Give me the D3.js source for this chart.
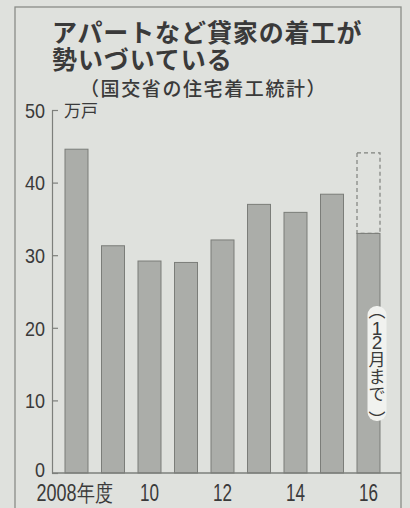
<!DOCTYPE html>
<html>
<head>
<meta charset="utf-8">
<script src="https://cdn.jsdelivr.net/npm/d3@7/dist/d3.min.js"></script>
<style>
  html, body { margin: 0; padding: 0; background: #dfe1dd; }
  svg { display: block; }
</style>
</head>
<body>
<script>
// Rental housing starts by fiscal year (10,000 units)
const years = ["2008", "2009", "2010", "2011", "2012", "2013", "2014", "2015", "2016"];
const starts = [44.6, 31.3, 29.2, 29.0, 32.1, 37.0, 35.9, 38.4, 33.0];

// Dashed outline on the latest (partial) year
const outlineYear = "2016";
const outlineValue = 44.1;

// Axis labelling
const yTicks = [0, 10, 20, 30, 40, 50];
const xLabelYears = ["2008", "2010", "2012", "2014", "2016"];
const xLabelTexts = ["2008年度", "10", "12", "14", "16"];
const unitLabel = "万戸";
const titleLines = ["アパートなど貸家の着工が", "勢いづいている"];
const subtitle = "（国交省の住宅着工統計）";
// Vertical note, stacked one glyph at a time
const noteChars = ["︵", "1", "2", "月", "ま", "で", "︶"];
const noteSteps = [0, 13, 14, 16, 17, 17, 20];
const noteNudge = [-6, 0, 0, 0, 0, 0, 6];

const W = 410, H = 508;
const paper = "#dfe1dd";
const ink = "#3a3a3a";
const barFill = "#abada9";
const barStroke = "#7b7d79";
const axisGray = "#7d7f7b";
const numFont = "'Liberation Sans', Arial, sans-serif";
const jpFont = "'Noto Sans CJK JP', 'Noto Sans', sans-serif";

const svg = d3.select("body").append("svg")
  .attr("width", W).attr("height", H);

svg.append("rect").attr("width", W).attr("height", H).attr("fill", paper);

// Frame
svg.append("rect")
  .attr("x", 15).attr("y", 7).attr("width", 386).attr("height", 502)
  .attr("fill", "none").attr("stroke", "#8a8c88").attr("stroke-width", 1.3);

// Titles
svg.selectAll("text.title").data(titleLines).join("text")
  .attr("class", "title")
  .attr("x", 52)
  .attr("y", (d, i) => 30.5 + i * 27)
  .attr("dominant-baseline", "central")
  .attr("font-family", jpFont)
  .attr("font-weight", 700)
  .attr("font-size", 25)
  .attr("letter-spacing", 0.9)
  .attr("fill", ink)
  .text(d => d);

svg.append("text")
  .attr("x", 80).attr("y", 87)
  .attr("dominant-baseline", "central")
  .attr("font-family", jpFont)
  .attr("font-weight", 500)
  .attr("font-size", 19)
  .attr("letter-spacing", 1.6)
  .attr("fill", ink)
  .text(subtitle);

// Scales
const y = d3.scaleLinear().domain([0, 50]).range([473, 110]);
const x = d3.scaleBand().domain(years)
  .range([58.25, 386.75])
  .paddingInner(0.37)
  .paddingOuter(0.185);

// Y axis with inward ticks
const yAxis = svg.append("g")
  .attr("transform", "translate(52,0)")
  .call(d3.axisLeft(y).tickValues(yTicks).tickSizeInner(-6).tickSizeOuter(0).tickPadding(8));
yAxis.select(".domain").attr("stroke", axisGray).attr("stroke-width", 1.2);
yAxis.selectAll(".tick line").attr("stroke", axisGray).attr("stroke-width", 1.2);
yAxis.selectAll(".tick text")
  .attr("x", -7)
  .attr("dy", d => d === 0 ? "0.15em" : "0.35em")
  .attr("font-family", numFont)
  .attr("font-size", 21)
  .attr("fill", ink)
  .attr("textLength", d => d >= 10 ? 20 : 10)
  .attr("lengthAdjust", "spacingAndGlyphs");

// Unit label next to the top tick
svg.append("text")
  .attr("x", 64).attr("y", y(50) - 1)
  .attr("dominant-baseline", "central")
  .attr("font-family", jpFont)
  .attr("font-size", 17)
  .attr("fill", ink)
  .text(unitLabel);

// Dashed outline
svg.append("rect")
  .attr("x", x(outlineYear))
  .attr("y", y(outlineValue))
  .attr("width", x.bandwidth())
  .attr("height", y(starts[years.indexOf(outlineYear)]) - y(outlineValue))
  .attr("fill", "none")
  .attr("stroke", "#80827e")
  .attr("stroke-width", 1.2)
  .attr("stroke-dasharray", "4,3");

// Bars
svg.selectAll("rect.bar").data(years).join("rect")
  .attr("class", "bar")
  .attr("x", d => x(d))
  .attr("y", (d, i) => y(starts[i]))
  .attr("width", x.bandwidth())
  .attr("height", (d, i) => y(0) - y(starts[i]))
  .attr("fill", barFill)
  .attr("stroke", barStroke)
  .attr("stroke-width", 1);

// Baseline
svg.append("line")
  .attr("x1", 52).attr("x2", 401)
  .attr("y1", y(0)).attr("y2", y(0))
  .attr("stroke", axisGray).attr("stroke-width", 1.3);

// X labels
svg.selectAll("text.xlab").data(xLabelYears).join("text")
  .attr("class", "xlab")
  .attr("x", d => x(d) + x.bandwidth() / 2 - (d === "2008" ? 2 : 0))
  .attr("y", 493)
  .attr("dominant-baseline", "central")
  .attr("text-anchor", "middle")
  .attr("font-family", numFont)
  .attr("font-size", 23)
  .attr("fill", ink)
  .attr("textLength", (d, i) => xLabelTexts[i].length > 2 ? 76 : 19)
  .attr("lengthAdjust", "spacingAndGlyphs")
  .text((d, i) => xLabelTexts[i]);

// Vertical note on the latest bar, on a white strip knocked out of the bar
const noteX = x(outlineYear) + x.bandwidth() - 3;
const noteY = d3.cumsum(noteSteps).map(v => 315 + v);
svg.append("rect")
  .attr("x", noteX - 9.5).attr("y", noteY[0] - 9)
  .attr("width", 19).attr("height", noteY[noteY.length - 1] - noteY[0] + 18)
  .attr("rx", 9).attr("ry", 9)
  .attr("fill", "#f1f2ef");
svg.append("text")
  .attr("text-anchor", "middle")
  .attr("dominant-baseline", "central")
  .attr("font-family", jpFont)
  .attr("font-size", 17)
  .attr("fill", ink)
  .selectAll("tspan").data(noteChars).join("tspan")
  .attr("x", noteX)
  .attr("y", (d, i) => noteY[i] + noteNudge[i])
  .attr("font-family", d => /[0-9]/.test(d) ? numFont : jpFont)
  .attr("font-size", d => /[0-9]/.test(d) ? 19 : 17)
  .text(d => d);
</script>
</body>
</html>
